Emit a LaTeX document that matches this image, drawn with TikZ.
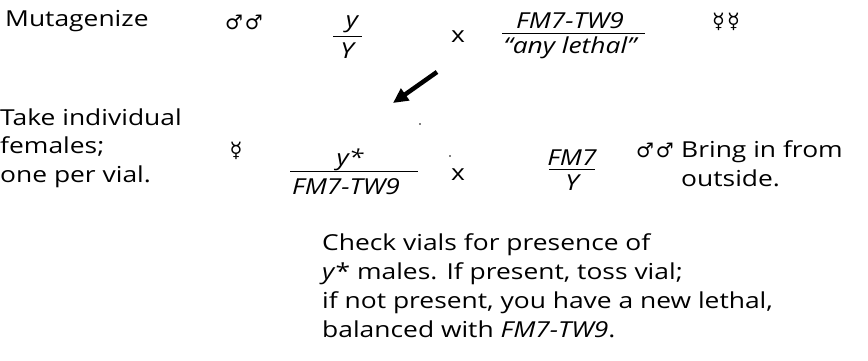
\documentclass[tikz,border=0pt]{standalone}
\usepackage{fontspec}
\setmainfont{Open Sans}[FakeStretch=1.2]
\newfontfamily\symfont{DejaVu Sans}
\usetikzlibrary{arrows.meta}
\tikzset{
  txt/.style={inner sep=0pt, font=\fontsize{22}{28}\selectfont},
  itxt/.style={inner sep=0pt, font=\fontsize{22}{28}\selectfont\itshape},
  sym/.style={inner sep=0pt, font=\fontsize{20}{24}\symfont},
  fracline/.style={line width=1pt},
  bigarrow/.style={line width=4.5pt, -{Triangle[length=15pt,width=14pt]}},
  speck/.style={fill=black, inner sep=0pt, minimum size=1.8pt, circle}
}
\begin{document}
\begin{tikzpicture}[x=1pt,y=-1pt]
\useasboundingbox (0,0) rectangle (868,361);
% Row 1
\node[txt, anchor=base west] (mut) at (5,27) {Mutagenize};
\node[sym] (m1) at (244,22) {♂\hspace{2pt}♂};
\node[itxt, anchor=base] (ynum) at (352,28) {y};
\node[itxt, anchor=base] (yden) at (347,59) {Y};
\coordinate (f1l) at (333,37); \coordinate (f1r) at (362,37);
\draw[fracline] (f1l) -- (f1r);
\node[txt] (x1) at (458,37) {x};
\node[itxt, anchor=base] (fmnum) at (570,29) {FM7-TW9};
\node[itxt, anchor=base] (fmden) at (570,54) {“any lethal”};
\coordinate (f2l) at (502,34); \coordinate (f2r) at (645,34);
\draw[fracline] (f2l) -- (f2r);
\node[sym, font=\fontsize{21}{24}\symfont] (h1) at (726,22) {☿\hspace{2pt}☿};
% Arrow
\coordinate (a0) at (437,72); \coordinate (a1) at (393,103);
\draw[bigarrow] (a0) -- (a1);
% Row 2
\node[txt, anchor=base west] (t1) at (0,125) {Take individual};
\node[txt, anchor=base west] (t2) at (0,153) {females;};
\node[txt, anchor=base west] (t3) at (0,182) {one per vial.};
\node[sym, font=\fontsize{21}{24}\symfont] (h2) at (236,151) {☿};
\node[itxt, anchor=base] (ys) at (350,165) {y*};
\node[itxt, anchor=base west] (fmt) at (292,194) {FM7-TW9};
\coordinate (f3l) at (290,171); \coordinate (f3r) at (418,171);
\draw[fracline] (f3l) -- (f3r);
\node[speck] (d1) at (420,124) {};
\node[speck] (d2) at (450,156) {};
\node[txt] (x2) at (458,175) {x};
\node[itxt, anchor=base] (fm7) at (572,165) {FM7};
\node[itxt, anchor=base] (ybig) at (572,190) {Y};
\coordinate (f4l) at (549,169); \coordinate (f4r) at (595,169);
\draw[fracline] (f4l) -- (f4r);
\node[sym] (m2) at (655,150) {♂\hspace{2pt}♂};
\node[txt, anchor=base west] (b1) at (681,157) {Bring in from};
\node[txt, anchor=base west] (b2) at (681,186) {outside.};
% Row 3
\node[txt, anchor=base west] (c1) at (322,250) {Check vials for presence of};
\node[txt, anchor=base west] (c2) at (322,279) {\textit{y}* males. If present, toss vial;};
\node[txt, anchor=base west] (c3) at (322,308) {if not present, you have a new lethal,};
\node[txt, anchor=base west] (c4) at (322,337) {balanced with \textit{FM7-TW9}.};
\end{tikzpicture}
\end{document}
